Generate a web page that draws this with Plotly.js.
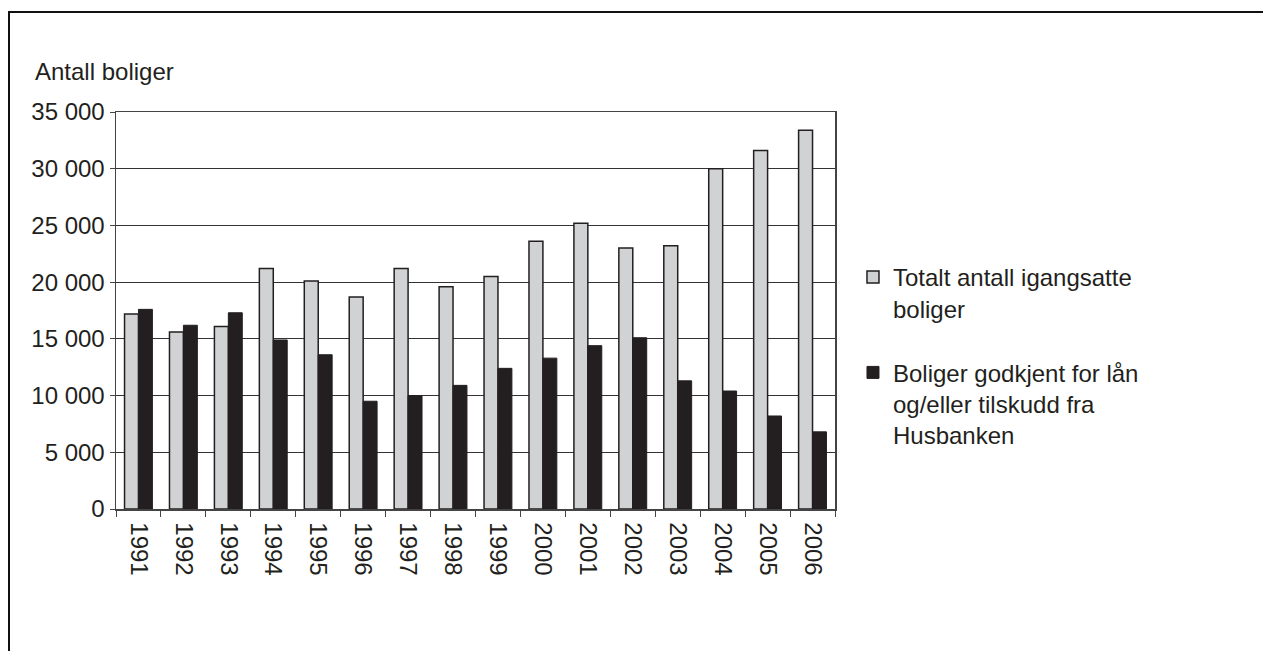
<!DOCTYPE html>
<html>
<head>
<meta charset="utf-8">
<script src="https://cdn.plot.ly/plotly-3.0.1.min.js"></script>
<style>
  html, body { margin: 0; padding: 0; width: 1263px; height: 651px; overflow: hidden; background: #fff; }
  #frame { position: absolute; left: 8px; top: 11px; width: 1300px; height: 700px; border: 2px solid #111; box-sizing: border-box; }
  #chart { position: absolute; left: 0; top: 0; width: 1263px; height: 651px; }
</style>
</head>
<body>
<div id="frame"></div>
<div id="chart"></div>
<script>
const years = ["1991","1992","1993","1994","1995","1996","1997","1998","1999","2000","2001","2002","2003","2004","2005","2006"];
const totalStarted = [17200,15600,16100,21200,20100,18700,21200,19600,20500,23600,25200,23000,23200,30000,31600,33400];
const husbankenApproved = [17600,16200,17300,14900,13600,9500,10000,10900,12400,13300,14400,15100,11300,10400,8200,6800];
const yTickVals = [0,5000,10000,15000,20000,25000,30000,35000];
const yTickText = ["0","5 000","10 000","15 000","20 000","25 000","30 000","35 000"];
const seriesNames = ["Totalt antall igangsatte<br>boliger", "Boliger godkjent for lån<br>og/eller tilskudd fra<br>Husbanken"];
const yTitle = "Antall boliger";

const dark = "#231f20";
const traces = [
  { type: "bar", x: years, y: totalStarted, name: seriesNames[0], legendgroup: "a",
    marker: { color: "#d1d2d4", line: { color: dark, width: 1.5 } } },
  { type: "bar", x: years, y: husbankenApproved, name: seriesNames[1], legendgroup: "b",
    marker: { color: dark, line: { color: dark, width: 1 } } }
];

const layout = {
  width: 1263, height: 651,
  paper_bgcolor: "rgba(0,0,0,0)", plot_bgcolor: "#fff",
  margin: { l: 116, r: 428, t: 112, b: 142 },
  font: { family: "Liberation Sans, Arial, sans-serif", size: 24, color: dark },
  barmode: "group", bargap: 0.38, bargroupgap: 0,
  showlegend: true,
  legend: { x: 1.025, y: 0.64, xanchor: "left", yanchor: "top", tracegroupgap: 30, valign: "top",
            font: { size: 24, color: dark }, itemwidth: 30, bgcolor: "rgba(0,0,0,0)" },
  xaxis: {
    type: "category", tickangle: 90, ticks: "outside", tickson: "boundaries", ticklen: 6,
    tickcolor: "#444", showline: true, linecolor: "#444", linewidth: 1.5, mirror: true,
    tickfont: { size: 24, color: dark }, showgrid: false, ticklabelstandoff: 7
  },
  yaxis: {
    range: [0, 35000], tickvals: yTickVals, ticktext: yTickText,
    ticks: "outside", ticklen: 5, tickcolor: "#444",
    showline: true, linecolor: "#444", linewidth: 1.5, mirror: true,
    showgrid: true, gridcolor: "#333", gridwidth: 1,
    tickfont: { size: 24, color: dark }, zeroline: false
  },
  annotations: [
    { text: yTitle, xref: "paper", yref: "paper", x: -0.116, y: 1.062, xanchor: "left", yanchor: "bottom",
      showarrow: false, font: { size: 24, color: dark } }
  ]
};

Plotly.newPlot("chart", traces, layout, { displayModeBar: false, staticPlot: true });
</script>
</body>
</html>
